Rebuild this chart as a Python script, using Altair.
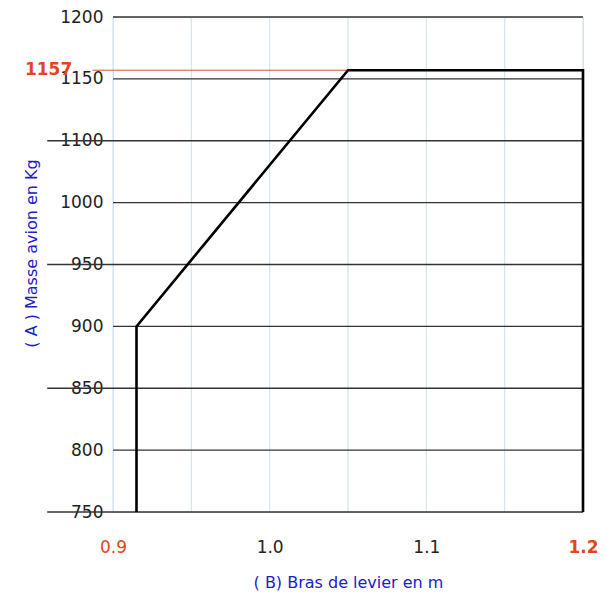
import altair as alt
import pandas as pd

# Envelope (bras de levier m, masse kg)
env_x = [0.915, 0.915, 1.05, 1.2, 1.2]
env_y = [750, 900, 1157, 1157, 750]

# horizontal reference lines and where each one starts on the left
h_values = [1200, 1150, 1100, 1000, 950, 900, 850, 800, 750]
h_start = [0.9, 0.9, 0.858, 0.9, 0.858, 0.9, 0.858, 0.9, 0.858]
x_end = 1.2

# vertical light-blue grid
v_values = [0.9, 0.95, 1.0, 1.05, 1.1, 1.15, 1.2]

x_ticks = [0.9, 1.0, 1.1, 1.2]
y_ticks = [750, 800, 850, 900, 950, 1000, 1100, 1150, 1200]

max_mass = 1157
red_line_x = [0.887, 1.05]
red_label_x = 0.874

BLUE = "#2020c8"
RED = "#e4461c"
FONT = "DejaVu Sans"

H = 495
step = H / 8
y_scale = alt.Scale(domain=[750, 1000, 1100, 1200],
                    range=[H, H - 5 * step, H - 6 * step, 0])
x_scale = alt.Scale(domain=[0.9, 1.2], nice=False, zero=False)

env_df = pd.DataFrame({"x": env_x, "y": env_y, "o": list(range(len(env_x)))})
h_df = pd.DataFrame({"y": h_values, "x": h_start, "x2": [x_end] * len(h_values)})
v_df = pd.DataFrame({"x": v_values, "y": [750] * len(v_values), "y2": [1200] * len(v_values)})
red_df = pd.DataFrame({"x": [red_line_x[0]], "x2": [red_line_x[1]], "y": [max_mass]})
lab_df = pd.DataFrame({"x": [red_label_x], "y": [max_mass], "t": [str(max_mass)]})

x_axis = alt.Axis(
    values=x_ticks, format=".1f", grid=False, domain=False, ticks=False, tickSize=0,
    labelFlush=False, labelOverlap=False,
    labelFont=FONT, labelFontSize=17, labelPadding=35, labelBaseline="middle",
    labelColor={"condition": {"test": "datum.value < 0.95 || datum.value > 1.15", "value": RED}, "value": "#222222"},
    labelFontWeight={"condition": {"test": "datum.value > 1.15", "value": "bold"}, "value": "normal"},
    title="( B) Bras de levier en m", titleColor=BLUE, titleFont=FONT, titleFontSize=16,
    titleFontWeight="normal", titleX=235, titleY=70, titleBaseline="middle", titleAlign="center",
)
y_axis = alt.Axis(
    values=y_ticks, format="d", grid=False, domain=False, ticks=False, tickSize=0,
    labelFlush=False, labelOverlap=False,
    labelFont=FONT, labelFontSize=17, labelPadding=10, labelBaseline="middle", labelColor="#222222",
    title="( A ) Masse avion en Kg", titleColor=BLUE, titleFont=FONT, titleFontSize=16,
    titleFontWeight="normal", titleX=-82, titleY=236, titleAngle=270, titleBaseline="middle",
    titleAlign="center",
)

vgrid = alt.Chart(v_df).mark_rule(color="#d2e6ee", strokeWidth=1.2).encode(
    x=alt.X("x:Q", scale=x_scale, axis=x_axis),
    y=alt.Y("y:Q", scale=y_scale, axis=y_axis),
    y2="y2:Q",
)
hlines = alt.Chart(h_df).mark_rule(color="#333333", strokeWidth=1.4).encode(
    x=alt.X("x:Q", scale=x_scale), x2="x2:Q", y=alt.Y("y:Q", scale=y_scale)
)
red = alt.Chart(red_df).mark_rule(color="#e0503c", strokeWidth=1).encode(
    x=alt.X("x:Q", scale=x_scale), x2="x2:Q", y=alt.Y("y:Q", scale=y_scale)
)
env = alt.Chart(env_df).mark_line(color="#000000", strokeWidth=2.6).encode(
    x=alt.X("x:Q", scale=x_scale), y=alt.Y("y:Q", scale=y_scale), order="o:Q"
)
lab = alt.Chart(lab_df).mark_text(
    color=RED, font=FONT, fontSize=17, fontWeight="bold", align="right", baseline="middle"
).encode(x=alt.X("x:Q", scale=x_scale), y=alt.Y("y:Q", scale=y_scale), text="t:N")

chart = alt.layer(vgrid, hlines, red, env, lab).properties(
    width=470, height=H,
    autosize=alt.AutoSizeParams(type="none"),
    padding={"left": 105, "top": 9, "right": 15, "bottom": 80},
).configure_view(stroke=None).configure(background="white")

chart.save("out.html", embed_options={"renderer": "svg", "actions": False})
